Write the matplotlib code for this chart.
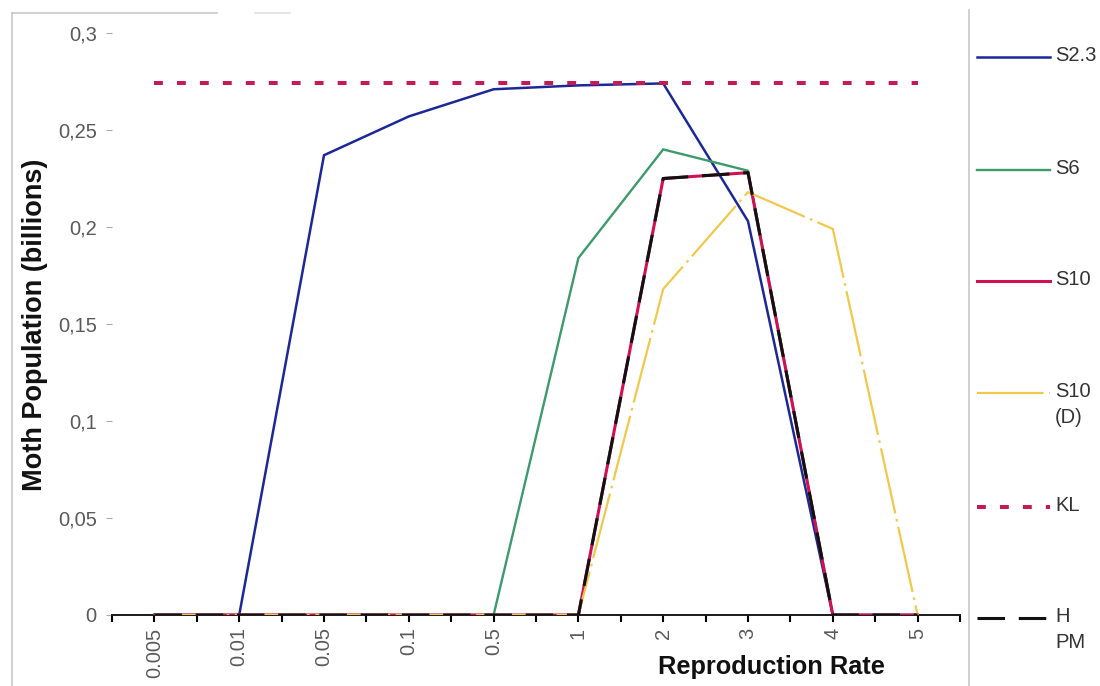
import matplotlib
matplotlib.use("Agg")
import matplotlib.pyplot as plt
from matplotlib.lines import Line2D

plt.rcParams['font.family'] = ['Liberation Sans', 'DejaVu Sans']

# ---- data ----
categories = ["0.005", "0.01", "0.05", "0.1", "0.5", "1", "2", "3", "4", "5"]
s2_3  = [0, 0, 0.237, 0.257, 0.271, 0.273, 0.274, 0.203, 0, 0]
s6    = [0, 0, 0, 0, 0, 0.184, 0.240, 0.229, 0, 0]
s10   = [0, 0, 0, 0, 0, 0, 0.225, 0.228, 0, 0]
s10d  = [0, 0, 0, 0, 0, 0, 0.168, 0.218, 0.199, 0]
kl    = [0.274] * 10
hpm   = [0, 0, 0, 0, 0, 0, 0.225, 0.228, 0, 0]
yticks = [0, 0.05, 0.1, 0.15, 0.2, 0.25, 0.3]
ytick_labels = ["0", "0,05", "0,1", "0,15", "0,2", "0,25", "0,3"]
legend_labels = ["S2.3", "S6", "S10", "S10\n(D)", "KL", "H\nPM"]

W, H = 1100, 686
def fx(x): return x / W
def fy(y): return 1 - y / H

fig = plt.figure(figsize=(11, 6.86), dpi=100)
ax = fig.add_axes([fx(112), fy(615), (960 - 112) / W, (615 - 33) / H])
x = list(range(len(categories)))

styles = [
    dict(color="#1c2896", lw=1.8, ls="-"),
    dict(color="#3c9a6c", lw=1.7, ls="-"),
    dict(color="#d01050", lw=2.2, ls="-"),
    dict(color="#f2c84b", lw=1.6, dashes=(30, 2.5, 1.2, 2.5)),
    dict(color="#c41a55", lw=2.9, dashes=(2.2, 3.5)),
    dict(color="#111111", lw=2.2, dashes=(9.0, 4.5)),
]
series = [s2_3, s6, s10, s10d, kl, hpm]
for i, (vals, st) in enumerate(zip(series, styles)):
    st = dict(st)
    kw = {}
    if "dashes" in st:
        kw["dashes"] = st.pop("dashes")
    else:
        kw["linestyle"] = st.pop("ls")
    ax.plot(x, vals, color=st["color"], linewidth=st["lw"], zorder=3 + i,
            solid_joinstyle="miter", **kw)

ax.set_xlim(-0.5, 9.5)
ax.set_ylim(0, 0.3)
ax.set_xticks(x)
ax.set_xticklabels(categories, rotation=90, fontsize=14.5, color="#5a5a5a")
ax.set_xticks([i + 0.5 for i in range(-1, 10)], minor=True)
ax.tick_params(axis="x", which="both", direction="out", length=5, width=1.5,
               color="black", pad=4)
ax.set_yticks(yticks)
ax.set_yticklabels(ytick_labels, fontsize=14.5, color="#5a5a5a")
ax.tick_params(axis="y", direction="out", length=4, width=0.8,
               color="#aaaaaa", pad=7)
for s in ["top", "right", "left"]:
    ax.spines[s].set_visible(False)
ax.spines["bottom"].set_linewidth(1.4)
ax.spines["bottom"].set_color("#1a1a1a")
ax.spines["bottom"].set_zorder(2)

fig.text(fx(35), fy(325), "Moth Population (billions)", rotation=90,
         fontsize=19.5, fontweight="bold", ha="center", va="center",
         color="#111111")
fig.text(fx(771), fy(667), "Reproduction Rate", fontsize=18.3,
         fontweight="bold", ha="center", va="center", color="#111111")

# frame decorations
fig.add_artist(Line2D([fx(12), fx(12)], [fy(13), fy(686)], color="#c8c8c8",
                      lw=1.2, transform=fig.transFigure))
fig.add_artist(Line2D([fx(12), fx(217)], [fy(13), fy(13)], color="#c8c8c8",
                      lw=1.2, transform=fig.transFigure))
fig.add_artist(Line2D([fx(255), fx(290)], [fy(13), fy(13)], color="#e0e0e0",
                      lw=1.2, transform=fig.transFigure))
fig.add_artist(Line2D([fx(969), fx(969)], [fy(10), fy(686)], color="#c8c8c8",
                      lw=1.2, transform=fig.transFigure))

# legend
leg_y = [57, 170, 281, 393, 507, 618]
for lab, st, yy in zip(legend_labels, styles, leg_y):
    st = dict(st)
    kw = {}
    if "dashes" in st:
        kw["dashes"] = st.pop("dashes")
    else:
        kw["linestyle"] = st.pop("ls")
    fig.add_artist(Line2D([fx(977), fx(1050)], [fy(yy), fy(yy)],
                          color=st["color"], linewidth=st["lw"],
                          transform=fig.transFigure, **kw))
    fig.text(fx(1055), fy(yy - 11), lab, fontsize=14.5, color="#333333",
             ha="left", va="top", linespacing=1.45)

fig.savefig("out.png", dpi=100)
